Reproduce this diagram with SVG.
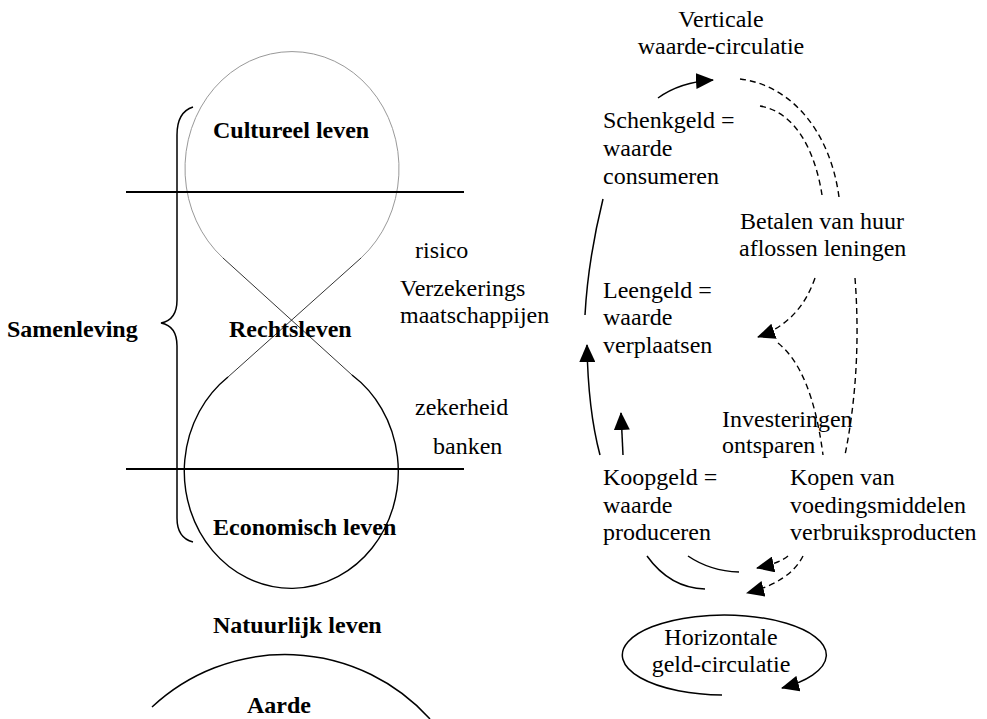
<svg xmlns="http://www.w3.org/2000/svg" width="987" height="719" viewBox="0 0 987 719">
<style>
text{font-family:"Liberation Serif","Times New Roman",serif;font-size:24px;fill:#000}
.b{font-weight:bold}
.s{fill:none;stroke:#000;stroke-width:1.5}
.d{fill:none;stroke:#000;stroke-width:1.4;stroke-dasharray:6 4}
.h{fill:none;stroke:#000;stroke-width:2}
</style>
<defs>
<marker id="ah" viewBox="0 0 18 16" refX="17" refY="8" markerWidth="18" markerHeight="16" markerUnits="userSpaceOnUse" orient="auto">
<path d="M0,0 L18,8 L0,16 z" fill="#000"/>
</marker>
</defs>
<rect width="987" height="719" fill="#fff"/>
<g id="hourglass">
<path d="M223 258 A107 117 0 1 1 361 258" fill="none" stroke="#999" stroke-width="1"/>
<path d="M223 258 L352 375 M361 258 L228 377" fill="none" stroke="#000" stroke-width="0.8"/>
<path d="M228 377 A107 117 0 1 0 352 375" fill="none" stroke="#000" stroke-width="1.4"/>
<path class="h" d="M126 192 H464 M126 469 H464"/>
<path class="s" d="M193 107 Q177 112 177 135 V300 Q177 320 161 323 Q177 326 177 346 V518 Q177 538 193 542"/>
<path class="s" d="M152 707 A195 195 0 0 1 430 719"/>
</g>
<g id="labels-left">
<text class="b" x="213" y="138">Cultureel leven</text>
<text class="b" x="229" y="337">Rechtsleven</text>
<text class="b" x="7" y="337">Samenleving</text>
<text class="b" x="213" y="535">Economisch leven</text>
<text class="b" x="213" y="633">Natuurlijk leven</text>
<text class="b" x="247" y="713">Aarde</text>
<text x="415" y="258">risico</text>
<text x="400" y="296">Verzekerings</text>
<text x="400" y="323">maatschappijen</text>
<text x="415" y="415">zekerheid</text>
<text x="433" y="454">banken</text>
</g>
<g id="labels-right">
<text x="721" y="27" text-anchor="middle">Verticale</text>
<text x="721" y="54" text-anchor="middle">waarde-circulatie</text>
<text x="603" y="128">Schenkgeld =</text>
<text x="603" y="156">waarde</text>
<text x="603" y="184">consumeren</text>
<text x="740" y="229">Betalen van huur</text>
<text x="739" y="256">aflossen leningen</text>
<text x="603" y="298">Leengeld =</text>
<text x="603" y="325">waarde</text>
<text x="603" y="353">verplaatsen</text>
<text x="722" y="427">Investeringen</text>
<text x="722" y="453">ontsparen</text>
<text x="603" y="485">Koopgeld =</text>
<text x="603" y="513">waarde</text>
<text x="603" y="540">produceren</text>
<text x="790" y="485">Kopen van</text>
<text x="790" y="513">voedingsmiddelen</text>
<text x="790" y="540">verbruiksproducten</text>
<text x="721" y="645" text-anchor="middle">Horizontale</text>
<text x="721" y="672" text-anchor="middle">geld-circulatie</text>
</g>
<g id="connectors">
<path class="s" d="M658 98 Q680 82 713 80" marker-end="url(#ah)"/>
<path class="d" d="M740 79 C790 85 830 130 839 197"/>
<path class="d" d="M760 106 C795 112 815 150 822 195"/>
<path class="s" d="M603 199 Q588 260 585 315"/>
<path class="s" d="M600 455 Q588 410 587 345" marker-end="url(#ah)"/>
<path class="s" d="M623 455 L621 413" marker-end="url(#ah)"/>
<path class="d" d="M815 278 Q800 322 758 337" marker-end="url(#ah)"/>
<path class="d" d="M778 343 Q812 370 823 455"/>
<path class="d" d="M855 278 Q862 370 845 455"/>
<path class="s" d="M647 556 Q670 588 705 589"/>
<path class="s" d="M688 556 Q710 571 739 572"/>
<path class="d" d="M788 556 Q780 563 757 568" marker-end="url(#ah)"/>
<path class="d" d="M803 556 Q790 582 747 593" marker-end="url(#ah)"/>
<path class="s" d="M722 695 A102 40 0 1 1 782 688" marker-end="url(#ah)"/>
</g>
</svg>
